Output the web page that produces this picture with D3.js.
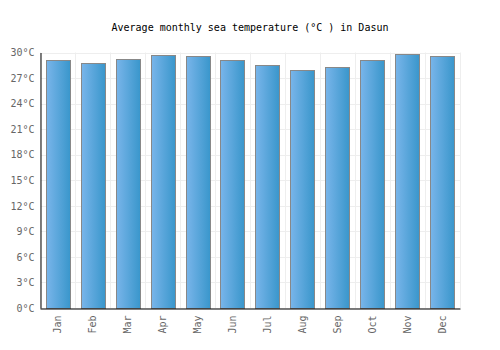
<!DOCTYPE html>
<html>
<head>
<meta charset="utf-8">
<script src="https://cdn.jsdelivr.net/npm/d3@7"></script>
<style>
body { margin: 0; background: #fff; }
text { font-family: "DejaVu Sans Mono", monospace; }
</style>
</head>
<body>
<div id="chart"></div>
<script>
var months = ["Jan", "Feb", "Mar", "Apr", "May", "Jun", "Jul", "Aug", "Sep", "Oct", "Nov", "Dec"];
var temps = [29.1, 28.8, 29.2, 29.7, 29.6, 29.1, 28.5, 28.0, 28.3, 29.1, 29.8, 29.6];
var yTicks = [0, 3, 6, 9, 12, 15, 18, 21, 24, 27, 30];

var w = 500, h = 350;
var plotLeft = 40, plotRight = 460, plotTop = 52.5, plotBottom = 308;

var svg = d3.select("#chart").append("svg")
    .attr("width", w)
    .attr("height", h);

var grad = svg.append("defs").append("linearGradient")
    .attr("id", "barGrad")
    .attr("x1", "0%").attr("x2", "100%").attr("y1", "0%").attr("y2", "0%");
grad.append("stop").attr("offset", "0%").attr("stop-color", "#79b5ea");
grad.append("stop").attr("offset", "100%").attr("stop-color", "#3996cb");

var x = d3.scaleBand().domain(months).range([plotLeft, plotRight]).paddingInner(0.31).paddingOuter(0.17);
var y = d3.scaleLinear().domain([0, 30]).range([plotBottom, plotTop]);

// grid
svg.append("g").selectAll("line")
    .data(yTicks)
    .enter().append("line")
    .attr("x1", plotLeft).attr("x2", plotRight)
    .attr("y1", function(d) { return Math.round(y(d)) + 0.5; })
    .attr("y2", function(d) { return Math.round(y(d)) + 0.5; })
    .attr("stroke", "#eeeeee");

var step = (plotRight - plotLeft) / months.length;
svg.append("g").selectAll("line")
    .data(d3.range(months.length + 1))
    .enter().append("line")
    .attr("x1", function(i) { return Math.round(plotLeft + i * step) + 0.5; })
    .attr("x2", function(i) { return Math.round(plotLeft + i * step) + 0.5; })
    .attr("y1", plotTop).attr("y2", plotBottom)
    .attr("stroke", "#eeeeee");

// bars
svg.append("g").selectAll("rect")
    .data(temps)
    .enter().append("rect")
    .attr("x", function(d, i) { return Math.round(x(months[i])) + 0.5; })
    .attr("width", Math.round(x.bandwidth()))
    .attr("y", function(d) { return Math.round(y(d)) + 0.5; })
    .attr("height", function(d) { return Math.round(plotBottom - y(d)); })
    .attr("fill", "url(#barGrad)")
    .attr("stroke", "#888888")
    .attr("stroke-width", 1);

// axes
var yAxis = svg.append("g")
    .attr("transform", "translate(" + (plotLeft + 0.5) + ",0)")
    .call(d3.axisLeft(y).tickValues(yTicks).tickSize(0).tickPadding(6)
        .tickFormat(function(d) { return d + "°C"; }));
yAxis.select(".domain").attr("stroke", "#000");
yAxis.selectAll("text").attr("fill", "#666").style("font-size", "10px");

var xAxis = svg.append("g")
    .attr("transform", "translate(0," + (plotBottom + 0.5) + ")")
    .call(d3.axisBottom(x).tickSize(0).tickPadding(6));
xAxis.select(".domain").attr("stroke", "#000");
xAxis.selectAll("text")
    .attr("fill", "#666")
    .style("font-size", "10px")
    .attr("transform", "rotate(-90)")
    .attr("text-anchor", "end")
    .attr("x", -7)
    .attr("y", 0)
    .attr("dy", "0.35em");

svg.append("text")
    .attr("x", 250)
    .attr("y", 31)
    .attr("text-anchor", "middle")
    .style("font-size", "10px")
    .attr("fill", "#000")
    .text("Average monthly sea temperature (°C ) in Dasun");
</script>
</body>
</html>
